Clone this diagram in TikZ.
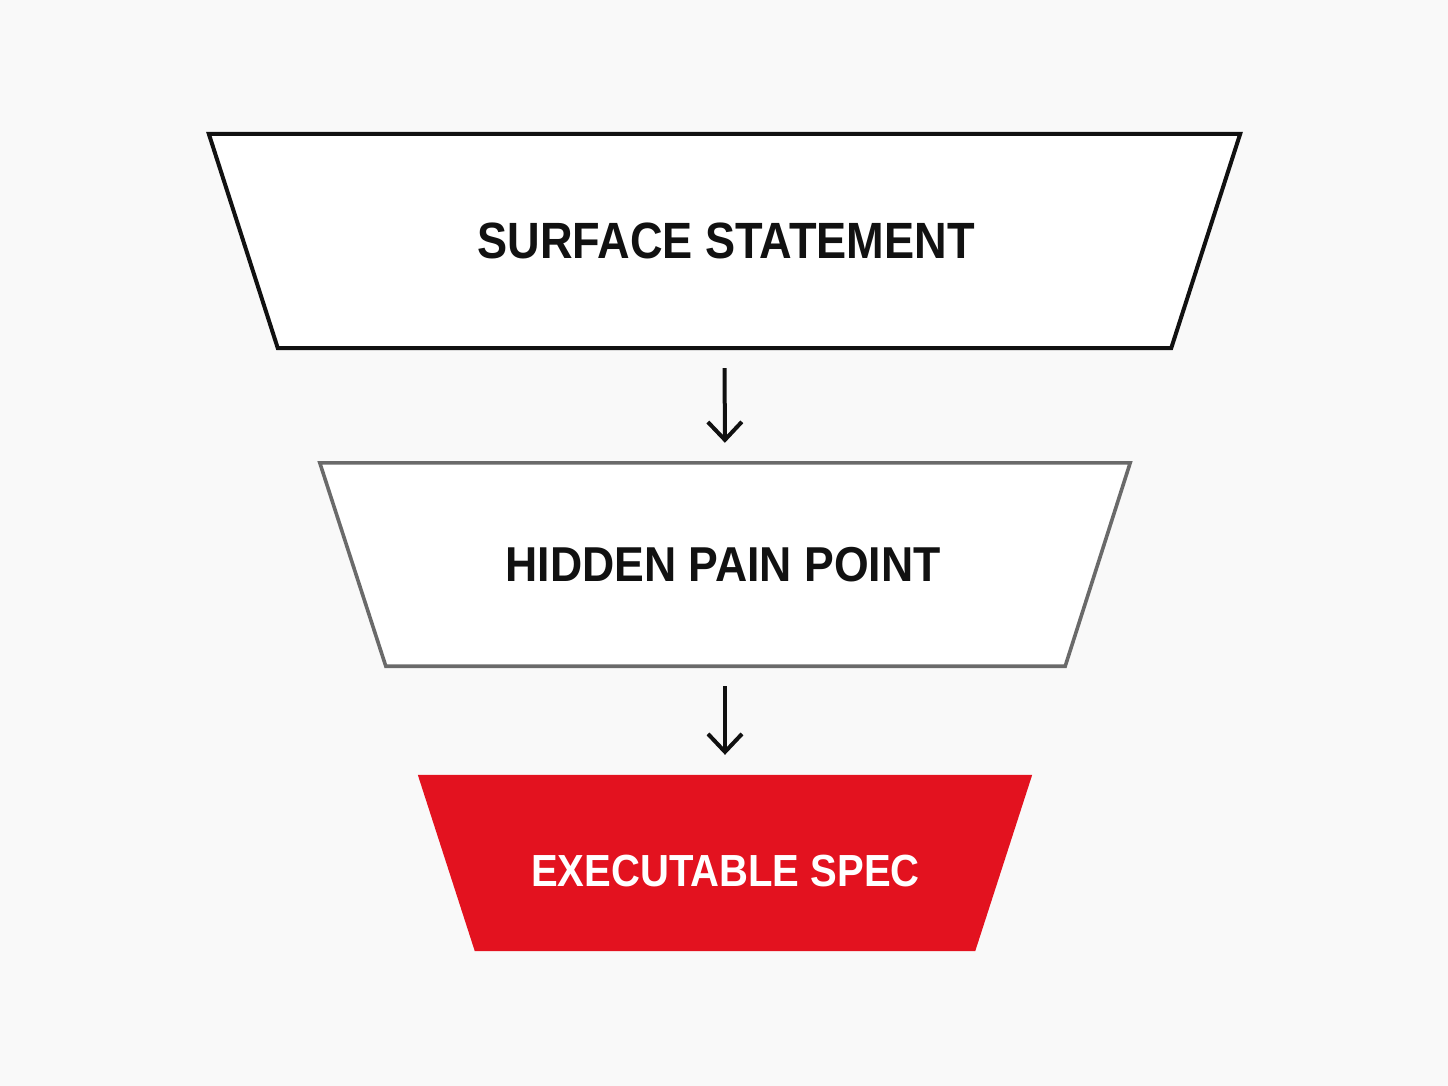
\documentclass[tikz,border=0pt]{standalone}
\usepackage{fontspec}
\setmainfont{Liberation Sans}
\usetikzlibrary{arrows.meta,calc}
\definecolor{bg}{HTML}{F9F9F9}
\definecolor{specred}{HTML}{E3121F}
\definecolor{midgray}{HTML}{6A6A6A}
\definecolor{ink}{HTML}{111111}
\tikzset{
  lab/.style={inner sep=0pt, text=ink},
  frame/.style={draw=none, inner sep=0pt},
  flow/.style={line width=4pt, draw=ink, -{Straight Barb[length=18pt,width=34pt,line width=4pt]}, shorten <=20pt, shorten >=20pt},
}
\newcommand{\labtext}[3]{\fontsize{#1}{#1}\selectfont\bfseries\scalebox{#2}[1]{#3}}
\begin{document}
\begin{tikzpicture}[x=1pt,y=-1pt]
\fill[bg] (0,0) rectangle (1448,1086);
\useasboundingbox (0,0) rectangle (1448,1086);
% frames (invisible rectangles giving anchors)
\node[frame, minimum width=1031pt, minimum height=214pt] (t1) at (724.5,241) {};
\node[frame, minimum width=810pt, minimum height=203pt] (t2) at (725,564.5) {};
\node[frame, minimum width=614pt, minimum height=176pt] (t3) at (725,863) {};
% trapezoids
\draw[line width=4pt, draw=ink, fill=white, line join=miter]
  (t1.north west) -- (t1.north east) -- ($(t1.south east)+(-69,0)$) -- ($(t1.south west)+(69,0)$) -- cycle;
\draw[line width=3.6pt, draw=midgray, fill=white]
  (t2.north west) -- (t2.north east) -- ($(t2.south east)+(-65,0)$) -- ($(t2.south west)+(66,0)$) -- cycle;
\fill[specred]
  (t3.north west) -- (t3.north east) -- ($(t3.south east)+(-57,0)$) -- ($(t3.south west)+(57,0)$) -- cycle;
% labels
\node[lab] (l1) at (726,240.5) {\labtext{51}{0.885}{SURFACE STATEMENT}};
\node[lab] (l2) at (723,564.5) {\labtext{49}{0.91}{HIDDEN PAIN POINT}};
\node[lab, text=white] (l3) at (725.5,871) {\labtext{45}{0.89}{EXECUTABLE SPEC}};
% connectors
\draw[flow] (t1.south) -- (t2.north);
\draw[flow] (t2.south) -- (t3.north);
\end{tikzpicture}
\end{document}
